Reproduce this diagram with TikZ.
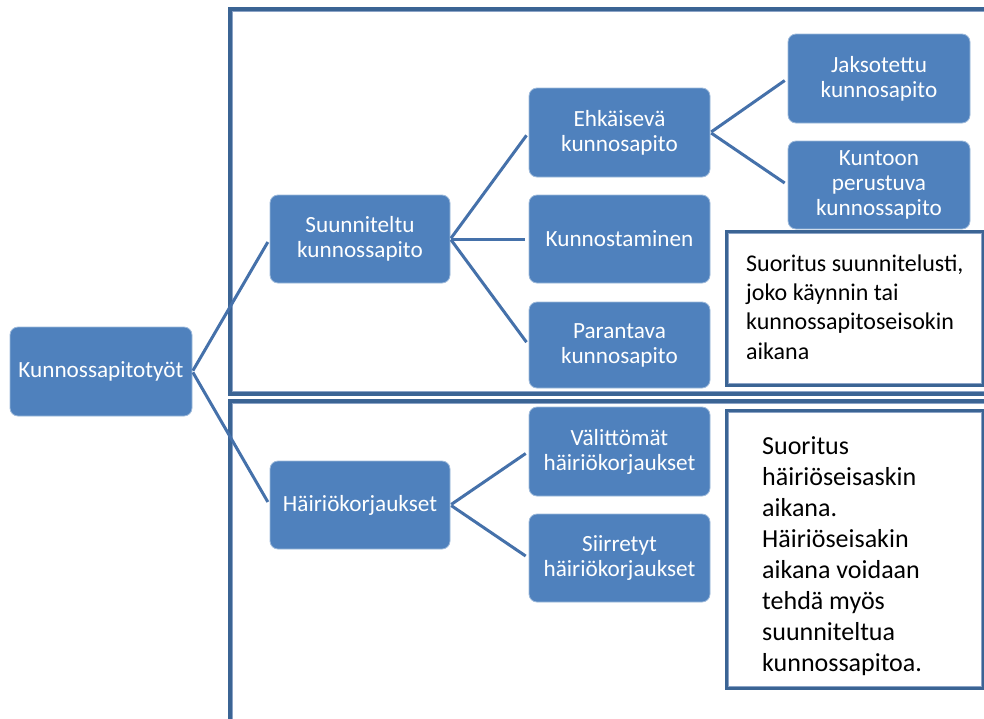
\documentclass[tikz,border=0pt]{standalone}
\usepackage{fontspec}
\setmainfont{Carlito}
\usetikzlibrary{calc}

\definecolor{boxblue}{HTML}{4F81BD}
\definecolor{edgeblue}{HTML}{4571AA}
\definecolor{framedark}{HTML}{3B6494}
\definecolor{framelight}{HTML}{8BA3C6}

\tikzset{
  box/.style={draw=boxblue!55!white, line width=0.8pt, fill=boxblue,
    rounded corners=8pt, text=white, align=center,
    font=\fontsize{23.2}{25}\selectfont, inner sep=0pt},
  link/.style={draw=edgeblue, line width=3pt, shorten >=3.5pt, shorten <=1pt},
  framemain/.style={draw=framedark, line width=3.6pt},
  frameinner/.style={draw=framelight, line width=1.2pt},
  notebox/.style={draw=framedark, line width=4pt, fill=white, inner sep=0pt},
  noteinner/.style={draw=framelight, line width=1pt},
  notetext/.style={align=left, text=black, inner sep=0pt, anchor=north west},
}

\begin{document}
\begin{tikzpicture}[x=1pt, y=-1pt]
  \useasboundingbox (0,0) rectangle (984,718);
  \fill[white] (0,0) rectangle (984,718);
  \clip (0,0) rectangle (984,718);

  % framed areas: planned work (top) and breakdown repairs (bottom)
  \draw[framemain] (1000,9.2) -- (230,9.2) -- (230,394.2) -- (1000,394.2);
  \draw[frameinner] (1000,11.8) -- (232.6,11.8) -- (232.6,391.6) -- (1000,391.6);
  \draw[framemain] (1000,401) -- (230,401) -- (230,730);
  \draw[frameinner] (1000,403.6) -- (232.6,403.6) -- (232.6,730);

  % tree nodes
  \node[box, minimum width=182, minimum height=89] (root) at (101,371.5) {Kunnossapitotyöt};
  \node[box, minimum width=180, minimum height=88] (plan) at (360,239) {Suunniteltu\\kunnossapito};
  \node[box, minimum width=180, minimum height=88] (fault) at (360,505) {Häiriökorjaukset};
  \node[box, minimum width=181, minimum height=89] (prev) at (619.5,132.5) {Ehkäisevä\\kunnosapito};
  \node[box, minimum width=181, minimum height=88] (restore) at (619.5,239) {Kunnostaminen};
  \node[box, minimum width=181, minimum height=86] (improve) at (619.5,345) {Parantava\\kunnosapito};
  \node[box, minimum width=182, minimum height=89] (periodic) at (879,78.5) {Jaksotettu\\kunnosapito};
  \node[box, minimum width=182, minimum height=88] (condition) at (879,185) {Kuntoon\\perustuva\\kunnossapito};
  \node[box, minimum width=181, minimum height=89] (immediate) at (619.5,451.5) {Välittömät\\häiriökorjaukset};
  \node[box, minimum width=181, minimum height=88] (deferred) at (619.5,558) {Siirretyt\\häiriökorjaukset};

  % connectors
  \draw[link] (root.east) -- (plan.west);
  \draw[link] (root.east) -- (fault.west);
  \draw[link] (plan.east) -- (prev.west);
  \draw[link] (plan.east) -- (restore.west);
  \draw[link] (plan.east) -- (improve.west);
  \draw[link] (prev.east) -- (periodic.west);
  \draw[link] (prev.east) -- (condition.west);
  \draw[link] (fault.east) -- (immediate.west);
  \draw[link] (fault.east) -- (deferred.west);

  % explanatory notes
  \node[notebox, minimum width=256, minimum height=153] (note1) at (855,308.5) {};
  \draw[noteinner] ([shift={(3.6,3.6)}]note1.north west) rectangle ([shift={(-3.6,-3.6)}]note1.south east);
  \node[notetext, font=\fontsize{24}{29.3}\selectfont] (note1text) at (746,254.5)
    {Suoritus suunnitelusti,\\joko käynnin tai\\kunnossapitoseisokin\\aikana};

  \node[notebox, minimum width=256, minimum height=277] (note2) at (855,549.5) {};
  \draw[noteinner] ([shift={(3.6,3.6)}]note2.north west) rectangle ([shift={(-3.6,-3.6)}]note2.south east);
  \node[notetext, font=\fontsize{26}{31.1}\selectfont] (note2text) at (762,436)
    {Suoritus\\häiriöseisaskin\\aikana.\\Häiriöseisakin\\aikana voidaan\\tehdä myös\\suunniteltua\\kunnossapitoa.};
\end{tikzpicture}
\end{document}
